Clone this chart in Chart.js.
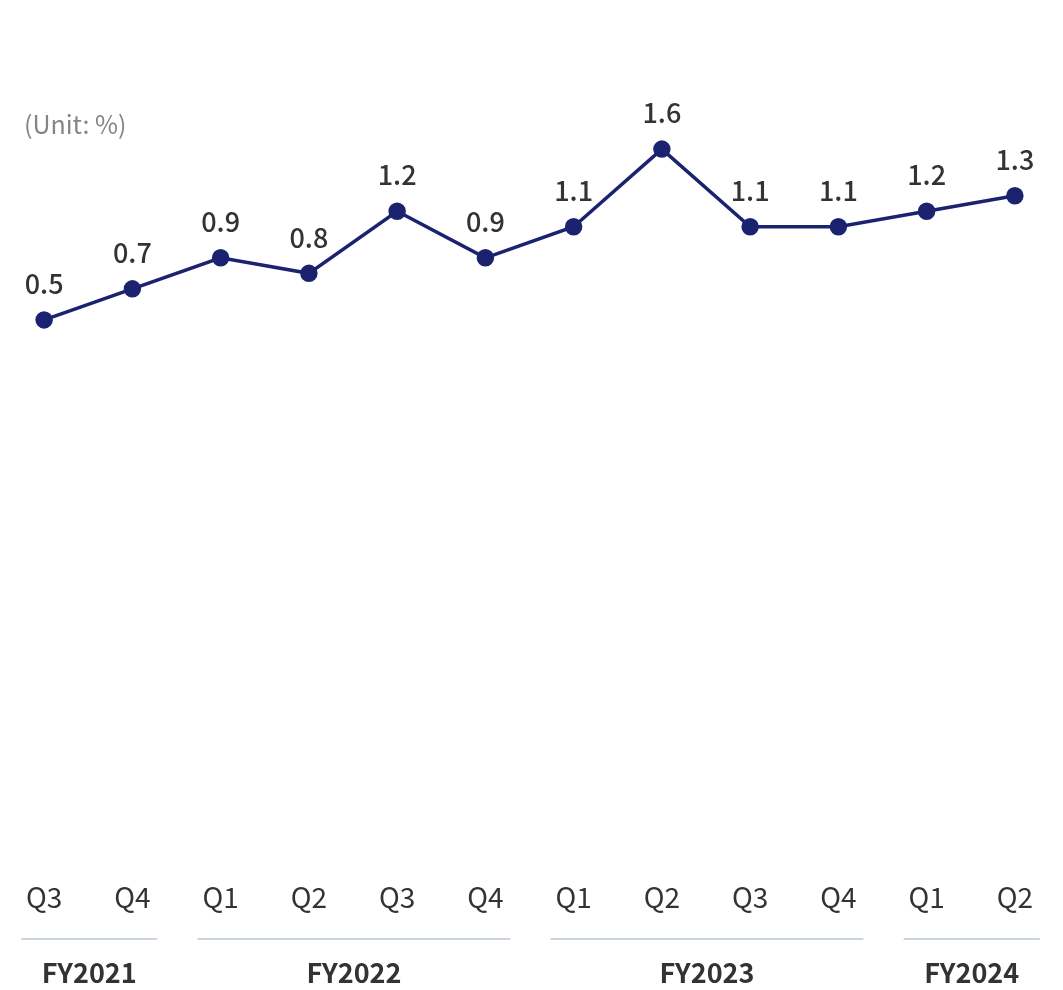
<!DOCTYPE html>
<html>
<head>
<meta charset="utf-8">
<script src="https://cdn.jsdelivr.net/npm/chart.js@4"></script>
<style>
    html, body { margin: 0; padding: 0; background: #fff; }
    #wrap { width: 1063px; height: 990px; }
</style>
</head>
<body>
<div id="wrap"><canvas id="rateChart"></canvas></div>
<script>
// values
const quarters = ['Q3', 'Q4', 'Q1', 'Q2', 'Q3', 'Q4', 'Q1', 'Q2', 'Q3', 'Q4', 'Q1', 'Q2'];
const rates = [0.5, 0.7, 0.9, 0.8, 1.2, 0.9, 1.1, 1.6, 1.1, 1.1, 1.2, 1.3];
const fiscalYears = ['FY2021', 'FY2022', 'FY2023', 'FY2024'];
const yearSpans = [[0, 1], [2, 5], [6, 9], [10, 11]];

const FONT = '"Noto Sans CJK JP", "Noto Sans", sans-serif';
const NAVY = '#1b2270';

// value labels + unit text + fiscal year groups
const extras = {
    id: 'extras',
    afterDatasetsDraw(chart) {
        const ctx = chart.ctx;
        const meta = chart.getDatasetMeta(0);
        ctx.save();
        ctx.textAlign = 'center';
        ctx.textBaseline = 'middle';
        ctx.fillStyle = '#333';
        ctx.font = '500 27px ' + FONT;
        meta.data.forEach((pt, i) => {
            ctx.fillText(rates[i].toFixed(1), pt.x, pt.y - 36);
        });

        ctx.textAlign = 'left';
        ctx.fillStyle = '#858585';
        ctx.font = '25px ' + FONT;
        ctx.fillText('(Unit: %)', 24, 124);

        const x = chart.scales.x;
        ctx.textAlign = 'center';
        yearSpans.forEach((span, i) => {
            const x1 = x.getPixelForValue(span[0]) - 23;
            const x2 = x.getPixelForValue(span[1]) + 25;
            ctx.strokeStyle = '#c9d5e1';
            ctx.lineWidth = 2;
            ctx.beginPath();
            ctx.moveTo(x1, 939);
            ctx.lineTo(x2, 939);
            ctx.stroke();
            ctx.fillStyle = '#333';
            ctx.font = '600 27px ' + FONT;
            ctx.fillText(fiscalYears[i], (x1 + x2) / 2, 973);
        });
        ctx.restore();
    }
};

new Chart(document.getElementById('rateChart'), {
    type: 'line',
    data: {
        labels: quarters,
        datasets: [{
            data: rates,
            borderColor: NAVY,
            backgroundColor: NAVY,
            borderWidth: 3.5,
            pointRadius: 7,
            pointHoverRadius: 7,
            tension: 0,
            fill: false
        }]
    },
    options: {
        responsive: true,
        maintainAspectRatio: false,
        animation: false,
        layout: { autoPadding: false, padding: { top: 87, bottom: 59, left: 0, right: 4 } },
        plugins: {
            legend: { display: false },
            tooltip: { enabled: false }
        },
        scales: {
            x: {
                offset: true,
                grid: { display: false, drawTicks: false },
                border: { display: false },
                ticks: {
                    color: '#333',
                    padding: 17,
                    font: { family: FONT, size: 28 }
                }
            },
            y: {
                display: false,
                min: -3,
                max: 2
            }
        }
    },
    plugins: [extras]
});
</script>
</body>
</html>
